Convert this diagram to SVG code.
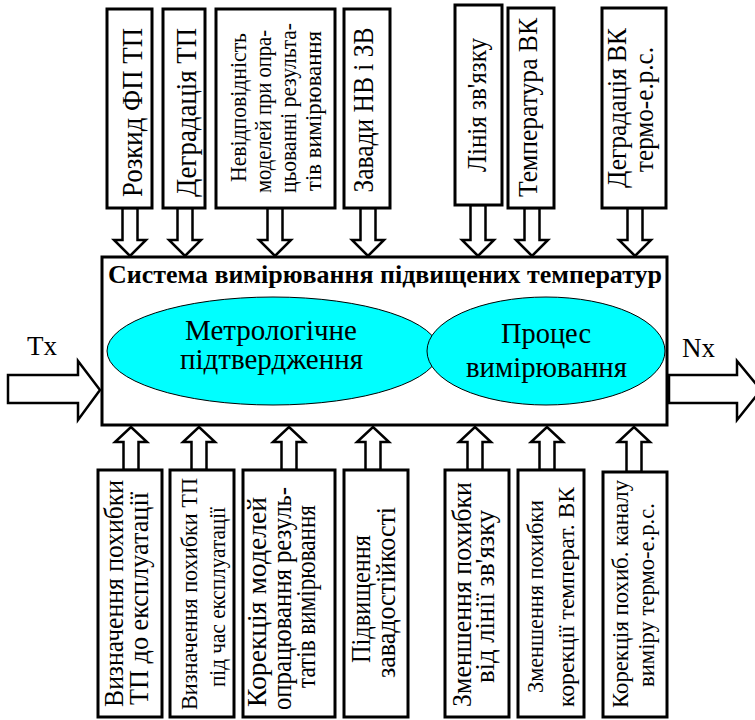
<svg xmlns="http://www.w3.org/2000/svg" width="755" height="720" viewBox="0 0 755 720">
<style>
.box{fill:#fff;stroke:#000;stroke-width:3}
.arr{fill:#fff;stroke:#000;stroke-width:2.5;stroke-linejoin:miter}
.ell{fill:#00ffff;stroke:#000;stroke-width:1}
text{font-family:"Liberation Serif","Times New Roman",serif;fill:#000}
.v28{font-size:28.5px;text-anchor:middle}
.v27{font-size:27.5px;text-anchor:middle}
.v24{font-size:24px;text-anchor:middle}
.v23{font-size:23px;text-anchor:middle}
.v22{font-size:22.5px;text-anchor:middle}
.e{font-size:28.5px;text-anchor:middle}
</style>
<rect width="755" height="720" fill="#fff"/>
<g id="connectors">
<polygon class="arr" points="122.5,208 137.5,208 137.5,240 146,240 130,256 114,240 122.5,240"/>
<polygon class="arr" points="177.5,208 192.5,208 192.5,240 201,240 185,256 169,240 177.5,240"/>
<polygon class="arr" points="267.5,208 282.5,208 282.5,240 291,240 275,256 259,240 267.5,240"/>
<polygon class="arr" points="360.5,208 375.5,208 375.5,240 384,240 368,256 352,240 360.5,240"/>
<polygon class="arr" points="470.5,205 485.5,205 485.5,240 494,240 478,256 462,240 470.5,240"/>
<polygon class="arr" points="524.5,208 539.5,208 539.5,240 548,240 532,256 516,240 524.5,240"/>
<polygon class="arr" points="627.5,208 642.5,208 642.5,240 651,240 635,256 619,240 627.5,240"/>
<polygon class="arr" points="123.5,470 138.5,470 138.5,442 147,442 131,427 115,442 123.5,442"/>
<polygon class="arr" points="191.5,470 206.5,470 206.5,442 215,442 199,427 183,442 191.5,442"/>
<polygon class="arr" points="281.5,470 296.5,470 296.5,442 305,442 289,427 273,442 281.5,442"/>
<polygon class="arr" points="365.5,470 380.5,470 380.5,442 389,442 373,427 357,442 365.5,442"/>
<polygon class="arr" points="467.5,470 482.5,470 482.5,442 491,442 475,427 459,442 467.5,442"/>
<polygon class="arr" points="539.5,470 554.5,470 554.5,442 563,442 547,427 531,442 539.5,442"/>
<polygon class="arr" points="626.5,472 641.5,472 641.5,442 650,442 634,427 618,442 626.5,442"/>
<polygon class="arr" points="8,375 78,375 78,361 100,390 78,420 78,403 8,403"/>
<polygon class="arr" points="669,375 737,375 737,361 761,390 737,420 737,403 669,403"/>
</g>
<g id="main">
<rect class="box" x="102" y="257" width="565" height="168"/>
<text x="385" y="283" font-size="25" font-weight="bold" text-anchor="middle" textLength="554" lengthAdjust="spacingAndGlyphs">Система вимірювання підвищених температур</text>
</g>
<g id="metro">
<ellipse class="ell" cx="273" cy="351" rx="166" ry="54"/>
<text class="e" x="271" y="340" textLength="172" lengthAdjust="spacingAndGlyphs">Метрологічне</text>
<text class="e" x="271.5" y="369" textLength="183" lengthAdjust="spacingAndGlyphs">підтвердження</text>
</g>
<g id="process">
<ellipse class="ell" cx="546" cy="351" rx="119" ry="54"/>
<text class="e" x="546" y="343" textLength="90" lengthAdjust="spacingAndGlyphs">Процес</text>
<text class="e" x="546.5" y="377" textLength="161" lengthAdjust="spacingAndGlyphs">вимірювання</text>
</g>
<g id="tx"><text x="27" y="355" font-size="27">Tx</text></g>
<g id="nx"><text x="682" y="357" font-size="27">Nx</text></g>
<g id="t1"><rect class="box" x="107" y="9" width="45" height="199"/>
<text class="v28" transform="translate(142,112.5) rotate(-90)" textLength="169" lengthAdjust="spacingAndGlyphs">Розкид ФП ТП</text></g>
<g id="t2"><rect class="box" x="163" y="9" width="42" height="199"/>
<text class="v28" transform="translate(196,112.5) rotate(-90)" textLength="169" lengthAdjust="spacingAndGlyphs">Деградація ТП</text></g>
<g id="t3"><rect class="box" x="216" y="9" width="119" height="199"/>
<text class="v22" transform="translate(246,107.5) rotate(-90)" textLength="149" lengthAdjust="spacingAndGlyphs">Невідповідність</text>
<text class="v22" transform="translate(271,111.5) rotate(-90)" textLength="163" lengthAdjust="spacingAndGlyphs">моделей при опра-</text>
<text class="v22" transform="translate(296,108) rotate(-90)" textLength="170" lengthAdjust="spacingAndGlyphs">цьованні результа-</text>
<text class="v22" transform="translate(321,111) rotate(-90)" textLength="160" lengthAdjust="spacingAndGlyphs">тів вимірювання</text></g>
<g id="t4"><rect class="box" x="344" y="9" width="46" height="199"/>
<text class="v28" transform="translate(373,110) rotate(-90)" textLength="165" lengthAdjust="spacingAndGlyphs">Завади НВ і ЗВ</text></g>
<g id="t5"><rect class="box" x="455" y="5" width="47" height="200"/>
<text class="v27" transform="translate(486,105) rotate(-90)" textLength="134" lengthAdjust="spacingAndGlyphs">Лінія зв'язку</text></g>
<g id="t6"><rect class="box" x="508" y="8" width="46" height="200"/>
<text class="v27" transform="translate(537,107.5) rotate(-90)" textLength="179" lengthAdjust="spacingAndGlyphs">Температура ВК</text></g>
<g id="t7"><rect class="box" x="602" y="8" width="64" height="200"/>
<text class="v27" transform="translate(626,108) rotate(-90)" textLength="160" lengthAdjust="spacingAndGlyphs">Деградація ВК</text>
<text class="v27" transform="translate(653,109.5) rotate(-90)" textLength="125" lengthAdjust="spacingAndGlyphs">термо-е.р.с.</text></g>
<g id="b1"><rect class="box" x="98" y="470" width="64" height="247"/>
<text class="v27" transform="translate(123,593.5) rotate(-90)" textLength="227" lengthAdjust="spacingAndGlyphs">Визначення похибки</text>
<text class="v27" transform="translate(148,598.5) rotate(-90)" textLength="213" lengthAdjust="spacingAndGlyphs">ТП до експлуатації</text></g>
<g id="b2"><rect class="box" x="170" y="470" width="64" height="247"/>
<text class="v24" transform="translate(197,594) rotate(-90)" textLength="232" lengthAdjust="spacingAndGlyphs">Визначення похибки ТП</text>
<text class="v24" transform="translate(225,597) rotate(-90)" textLength="180" lengthAdjust="spacingAndGlyphs">під час експлуатації</text></g>
<g id="b3"><rect class="box" x="243" y="470" width="92" height="247"/>
<text class="v27" transform="translate(266,602) rotate(-90)" textLength="210" lengthAdjust="spacingAndGlyphs">Корекція моделей</text>
<text class="v27" transform="translate(291,598.5) rotate(-90)" textLength="223" lengthAdjust="spacingAndGlyphs">опрацювання резуль-</text>
<text class="v27" transform="translate(315,596.5) rotate(-90)" textLength="183" lengthAdjust="spacingAndGlyphs">татів вимірювання</text></g>
<g id="b4"><rect class="box" x="344" y="470" width="64" height="247"/>
<text class="v27" transform="translate(370,599) rotate(-90)" textLength="128" lengthAdjust="spacingAndGlyphs">Підвищення</text>
<text class="v27" transform="translate(395,592.5) rotate(-90)" textLength="171" lengthAdjust="spacingAndGlyphs">завадостійкості</text></g>
<g id="b5"><rect class="box" x="445" y="470" width="64" height="247"/>
<text class="v27" transform="translate(471,594.5) rotate(-90)" textLength="225" lengthAdjust="spacingAndGlyphs">Зменшення похибки</text>
<text class="v27" transform="translate(494,596.5) rotate(-90)" textLength="173" lengthAdjust="spacingAndGlyphs">від лінії зв'язку</text></g>
<g id="b6"><rect class="box" x="518" y="470" width="66" height="247"/>
<text class="v23" transform="translate(543,596.5) rotate(-90)" textLength="193" lengthAdjust="spacingAndGlyphs">Зменшення похибки</text>
<text class="v23" transform="translate(574,597) rotate(-90)" textLength="220" lengthAdjust="spacingAndGlyphs">корекції температ. ВК</text></g>
<g id="b7"><rect class="box" x="603" y="472" width="64" height="245"/>
<text class="v24" transform="translate(628,594) rotate(-90)" textLength="228" lengthAdjust="spacingAndGlyphs">Корекція похиб. каналу</text>
<text class="v24" transform="translate(654,595) rotate(-90)" textLength="184" lengthAdjust="spacingAndGlyphs">виміру термо-е.р.с.</text></g>
</svg>
